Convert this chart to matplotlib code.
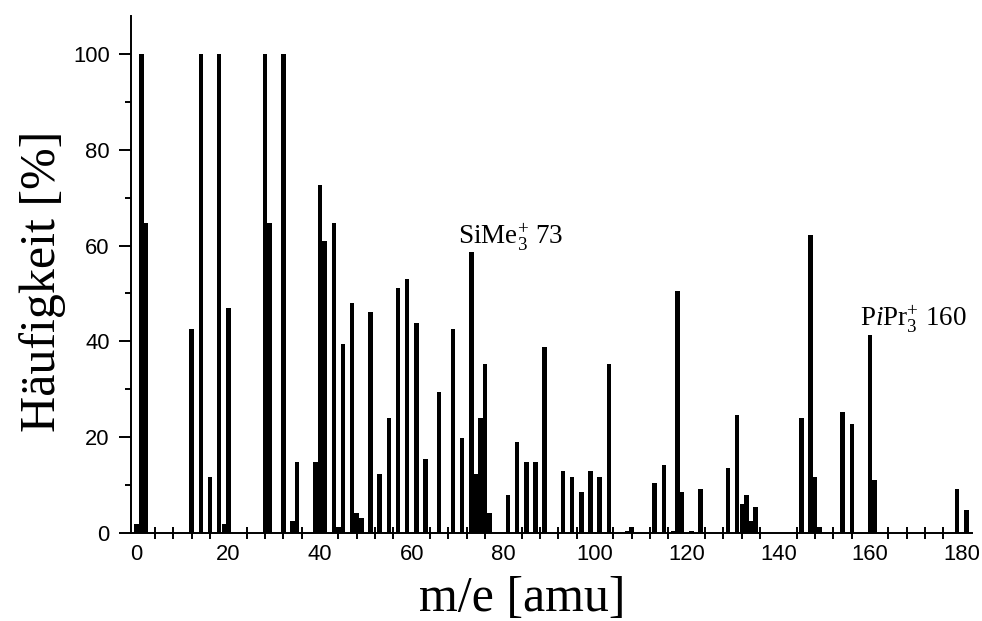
import matplotlib
matplotlib.use("Agg")
import matplotlib.pyplot as plt
from matplotlib.ticker import FixedLocator

# Mass spectrum: m/e values and relative intensities (%)
mz = [0, 1, 2, 12, 14, 16, 18, 19, 20, 28, 29, 32, 34, 35, 39, 40, 41, 43, 44, 45,
      47, 48, 49, 51, 53, 55, 57, 59, 61, 63, 66, 69, 71, 73, 74, 75, 76, 77,
      81, 83, 85, 87, 89, 93, 95, 97, 99, 101, 103, 107, 108, 113, 115, 117,
      118, 119, 121, 123, 129, 131, 132, 133, 134, 135, 145, 147, 148, 149,
      154, 156, 160, 161, 179, 181]
intensity = [1.8, 100, 64.7, 42.6, 100, 11.6, 100, 1.8, 46.9, 100, 64.7, 100, 2.4, 14.7,
             14.7, 72.7, 60.9, 64.7, 1.2, 39.4,
             48.0, 4.2, 3.0, 46.2, 12.2, 24.0, 51.2, 53.0, 43.8, 15.3, 29.5, 42.5, 19.7,
             58.6, 12.2, 24.0, 35.2, 4.2,
             7.9, 19.0, 14.7, 14.7, 38.8, 12.8, 11.6, 8.5, 12.8, 11.6, 35.2, 0.3, 1.2,
             10.4, 14.1, 0.3,
             50.5, 8.5, 0.4, 9.1, 13.5, 24.6, 6.0, 7.9, 2.4, 5.4, 24.0, 62.3, 11.6, 1.1,
             25.2, 22.7, 41.3, 11.0, 9.1, 4.8]

x_major = [0, 20, 40, 60, 80, 100, 120, 140, 160, 180]
x_minor = [v for v in range(4, 181, 4) if v % 20 != 0]
y_major = [0, 20, 40, 60, 80, 100]
y_minor = [10, 30, 50, 70, 90]

annotations = [(r"SiMe$_3^{+}$ 73", 70.0, 60.2),
               (r"P$\mathit{i}$Pr$_3^{+}$ 160", 157.7, 43.0)]

plt.rcParams["mathtext.fontset"] = "custom"
plt.rcParams["mathtext.rm"] = "Liberation Serif"
plt.rcParams["mathtext.it"] = "Liberation Serif:italic"

fig = plt.figure(figsize=(9.82, 6.21), dpi=100)
ax = fig.add_axes([0.1329, 0.1422, 0.8572, 0.8320])

ax.bar(mz, intensity, width=0.97, color="black", linewidth=0, align="center")

ax.set_xlim(-1.35, 182.3)
ax.set_ylim(0, 108)

for side in ("top", "right"):
    ax.spines[side].set_visible(False)
for side in ("left", "bottom"):
    ax.spines[side].set_linewidth(1.4)

ax.xaxis.set_major_locator(FixedLocator(x_major))
ax.xaxis.set_minor_locator(FixedLocator(x_minor))
ax.yaxis.set_major_locator(FixedLocator(y_major))
ax.yaxis.set_minor_locator(FixedLocator(y_minor))

ax.tick_params(axis="x", which="major", length=0, pad=8.5,
               labelsize=15.8)
ax.tick_params(axis="x", which="minor", direction="inout", length=8.6, width=1.4)
ax.tick_params(axis="y", which="major", direction="out", length=8.4, width=1.4,
               pad=6.5, labelsize=15.8)
ax.tick_params(axis="y", which="minor", direction="out", length=4.3, width=1.4)

for lbl in ax.get_xticklabels() + ax.get_yticklabels():
    lbl.set_fontfamily("Liberation Sans")

ax.set_xlabel("m/e [amu]", fontfamily="Liberation Serif", fontsize=36)
ax.set_ylabel("Häufigkeit [%]", fontfamily="Liberation Serif", fontsize=36)
ax.xaxis.set_label_coords(0.465, -0.083)
ax.yaxis.set_label_coords(-0.105, 0.487)
ax.yaxis.label.set_verticalalignment("center")

for text, xv, yv in annotations:
    ax.text(xv, yv, text, fontfamily="Liberation Serif", fontsize=19.5,
            ha="left", va="baseline")

fig.savefig("out.png", dpi=100)
